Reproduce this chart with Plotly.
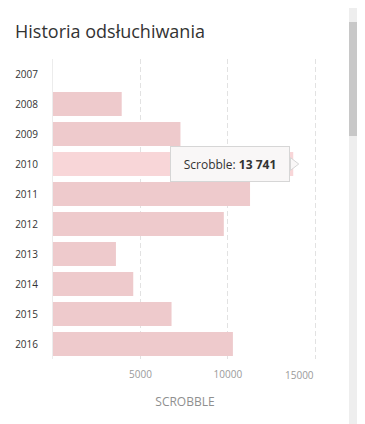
import plotly.graph_objects as go

years = ["2007", "2008", "2009", "2010", "2011", "2012", "2013", "2014", "2015", "2016"]
scrobbles = [0, 3930, 7290, 13741, 11270, 9770, 3600, 4590, 6780, 10290]
x_ticks = [5000, 10000, 15000]
x_tick_labels = ["5000", "10000", "15000"]
hover_index = 3

base_color = "#eecacc"
hover_color = "#f8d6d8"
colors = [hover_color if i == hover_index else base_color for i in range(len(years))]

fig = go.Figure()
fig.add_trace(go.Bar(
    x=scrobbles, y=years, orientation="h",
    marker=dict(color=colors, line=dict(width=0)),
    hoverinfo="skip", showlegend=False,
))

# tooltip arrow
fig.add_trace(go.Scatter(
    x=[scrobbles[hover_index]], y=[years[hover_index]], mode="markers",
    marker=dict(symbol="triangle-right", size=11, color="#f9f7f7",
                line=dict(color="#d6d6d6", width=1)),
    hoverinfo="skip", showlegend=False, cliponaxis=False,
))

fig.add_annotation(
    x=scrobbles[hover_index], y=hover_index, xref="x", yref="y",
    text="Scrobble: <b>%s</b>" % f"{scrobbles[hover_index]:,}".replace(",", " "),
    showarrow=False, xanchor="right", yanchor="middle", xshift=-3,
    bgcolor="#f9f7f7", bordercolor="#d6d6d6", borderwidth=1, borderpad=7,
    width=104, height=20, align="center",
    font=dict(family="Open Sans", size=12, color="#333333"),
)

tick_font = dict(family="Open Sans", size=10, color="#9a9a9a")
# last tick label is kept inside the plot (right-aligned to its gridline)
fig.add_annotation(
    x=x_ticks[-1], y=0, xref="x", yref="paper",
    text=x_tick_labels[-1], showarrow=False,
    xanchor="right", yanchor="top", yshift=-7, xshift=1,
    font=tick_font,
)

# page body has an 8px margin, so the figure is sized/placed relative to that
OFF = 8
W, H = 365 - OFF, 424 - OFF
X_MAX = 15100
L, T, B = 53 - OFF, 59 - OFF, 65
pw = round(262 * X_MAX / 15000)
R = W - L - pw
ph = H - T - B

fig.update_layout(
    width=W, height=H, autosize=False,
    margin=dict(l=L, r=R, t=T, b=B, autoexpand=False),
    paper_bgcolor="white", plot_bgcolor="white",
    bargap=0.2,
    title=dict(text="Historia odsłuchiwania", x=(15 - OFF) / W, xref="container", xanchor="left",
               y=1 - (32 - OFF) / H, yref="container", yanchor="middle",
               font=dict(family="Open Sans", size=18, color="#333333")),
    xaxis=dict(
        range=[0, X_MAX], tickvals=x_ticks,
        ticktext=x_tick_labels[:-1] + [""],
        showgrid=True, gridcolor="#e2e2e2", griddash="5px,3px", gridwidth=1,
        zeroline=False, showline=False, automargin=False,
        ticks="outside", ticklen=6, tickcolor="rgba(0,0,0,0)",
        tickfont=tick_font,
        title=dict(text="SCROBBLE", standoff=17,
                   font=dict(family="Open Sans", size=12, color="#8f8f8f")),
        fixedrange=True,
    ),
    yaxis=dict(
        type="category", categoryorder="array", categoryarray=years,
        range=[len(years) - 0.5, -0.5],
        showgrid=False, zeroline=False, automargin=False,
        showline=True, linecolor="#ececec", linewidth=1,
        ticks="outside", ticklen=12, tickcolor="rgba(0,0,0,0)",
        tickfont=dict(family="Open Sans", size=10, color="#333333"),
        fixedrange=True,
    ),
    shapes=[
        dict(type="rect", xref="paper", yref="paper",
             x0=(349 - OFF - L) / pw, x1=(W - L) / pw,
             y0=-B / ph, y1=(ph + T) / ph,
             fillcolor="#eeeeee", line=dict(width=0), layer="above"),
        dict(type="rect", xref="paper", yref="paper",
             x0=(349 - OFF - L) / pw, x1=(364 - OFF - L) / pw,
             y0=(H - B - (136 - OFF)) / ph, y1=(H - B - (22 - OFF)) / ph,
             fillcolor="#c8c8c8", line=dict(width=0), layer="above"),
    ],
)

fig.write_html("out.html")
